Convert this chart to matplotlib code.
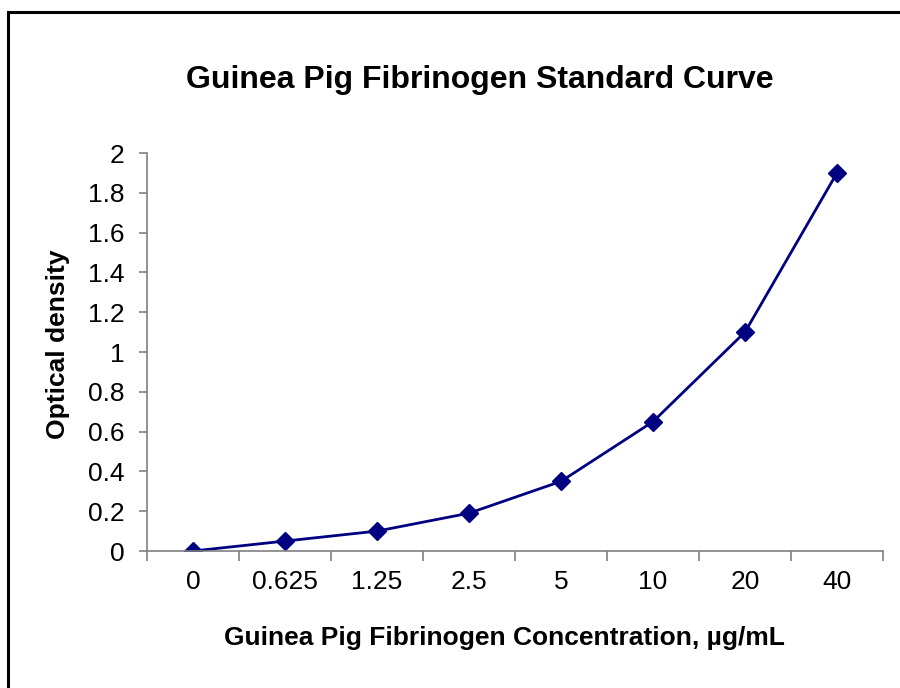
import matplotlib.pyplot as plt
from matplotlib.patches import Rectangle

plt.rcParams['font.family'] = ['Liberation Sans', 'DejaVu Sans']

# standard curve data
concentrations = ['0', '0.625', '1.25', '2.5', '5', '10', '20', '40']
od_values = [0.0, 0.05, 0.10, 0.19, 0.35, 0.65, 1.10, 1.90]
y_ticks = [0, 0.2, 0.4, 0.6, 0.8, 1, 1.2, 1.4, 1.6, 1.8, 2]

axis_grey = '#808080'
navy = '#000080'

fig = plt.figure(figsize=(9, 6.88), dpi=100)

# chart frame (right/bottom edges fall outside the image)
fig.patches.append(Rectangle((0.009, -0.1), 1.2, 1.082, transform=fig.transFigure,
                             fill=False, edgecolor='black', linewidth=2.2))

ax = fig.add_axes([0.1633, 0.1991, 0.8178, 0.5785])
x = list(range(len(concentrations)))
ax.plot(x, od_values, color=navy, linewidth=2, marker='D', markersize=9,
        markerfacecolor=navy, markeredgecolor=navy)

ax.set_xlim(-0.5, len(concentrations) - 0.5)
ax.set_ylim(0, 2)

for side in ['top', 'right']:
    ax.spines[side].set_visible(False)
for side in ['left', 'bottom']:
    ax.spines[side].set_color(axis_grey)
    ax.spines[side].set_linewidth(1.2)

ax.set_yticks(y_ticks)
ax.set_yticklabels([f'{v:g}' for v in y_ticks], fontsize=19)
ax.tick_params(axis='y', direction='out', length=6, width=1.2, color=axis_grey, pad=10)

# category labels centred, tick marks between categories
ax.set_xticks(x)
ax.set_xticklabels(concentrations, fontsize=19)
ax.set_xticks([i - 0.5 for i in range(len(concentrations) + 1)], minor=True)
ax.tick_params(axis='x', which='major', length=0, pad=14)
ax.tick_params(axis='x', which='minor', direction='out', length=7, width=1.2, color=axis_grey)

fig.text(0.533, 0.884, 'Guinea Pig Fibrinogen Standard Curve', ha='center', va='center',
         fontsize=23, fontweight='bold')
fig.text(0.56, 0.073, 'Guinea Pig Fibrinogen Concentration, \u00b5g/mL', ha='center',
         va='center', fontsize=19, fontweight='bold')
fig.text(0.064, 0.5, 'Optical density', ha='center', va='center', rotation=90,
         fontsize=19, fontweight='bold')

fig.savefig('out.png', dpi=100)
